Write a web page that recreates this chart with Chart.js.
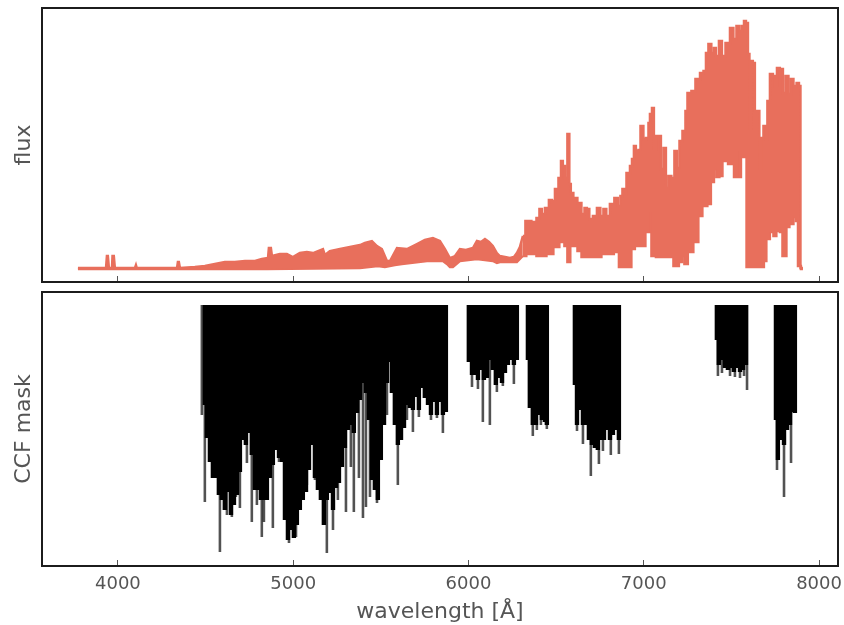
<!DOCTYPE html>
<html>
<head>
<meta charset="utf-8">
<title>flux and CCF mask</title>
<script src="https://cdn.jsdelivr.net/npm/chart.js@4"></script>
<style>
  body { margin: 0; background: #fff; }
  canvas { position: absolute; left: 0; }
  #fluxChart { top: 0; }
  #maskChart { top: 284px; }
</style>
</head>
<body>
<canvas id="fluxChart" width="844" height="290"></canvas>
<canvas id="maskChart" width="844" height="341"></canvas>
<script>
// Spectrum envelope (upper and lower edge of the dense line)
const fluxHighWave = [3772,3932,3937,3943,3949,3966,3969,3977,3983,4097,4103,4108,4337,4342,4348,4354,4439,4496,4553,4610,4667,4725,4782,4821,4856,4861,4873,4879,4924,4964,4998,5038,5078,5113,5170,5181,5209,5267,5324,5381,5409,5449,5478,5506,5535,5552,5592,5649,5706,5751,5797,5837,5866,5894,5923,5951,5985,6025,6048,6071,6094,6117,6139,6162,6179,6208,6236,6259,6276,6293,6310,6339,6379,6396,6413,6425,6447,6470,6482,6504,6522,6533,6544,6556,6561,6567,6573,6578,6590,6607,6636,6653,6670,6681,6698,6721,6744,6761,6778,6795,6818,6846,6858,6875,6881,6898,6904,6915,6927,6938,6949,6961,6978,6984,6995,7001,7024,7029,7041,7052,7064,7075,7092,7104,7121,7132,7149,7166,7183,7195,7212,7229,7246,7252,7263,7280,7309,7332,7349,7360,7377,7394,7406,7417,7440,7452,7480,7503,7520,7537,7554,7566,7577,7589,7600,7606,7617,7628,7640,7651,7668,7674,7691,7702,7708,7731,7743,7754,7765,7788,7800,7817,7834,7845,7863,7880,7891,7897,7908];
const fluxHigh = [14,14,26,26,14,14,26,26,14,14,17,14,14,20,20,14,15,16,18,20,20,21,21,23,24,34,34,26,28,28,25,29,30,29,33,27,31,33,35,37,39,41,36,33,21,21,34,33,38,42,44,41,33,24,26,33,32,34,41,40,43,40,36,29,26,25,24,25,29,35,46,61,60,64,73,68,74,82,81,93,104,121,116,104,104,148,148,98,89,84,79,68,74,73,63,66,74,66,73,66,78,84,76,86,93,88,109,109,116,123,136,131,132,156,156,143,144,159,168,174,133,146,146,113,134,94,106,104,131,114,141,151,171,189,189,191,203,209,211,229,238,229,234,226,241,226,239,254,243,256,251,256,261,259,228,154,221,219,171,171,114,144,156,143,181,208,206,196,214,213,189,206,188,203,196,199,196,14,14];
const fluxLowWave = [3772,4850,5381,5483,5523,5580,5620,5763,5854,5877,5894,5911,5951,6048,6139,6162,6179,6276,6310,6350,6425,6465,6504,6533,6561,6567,6578,6584,6607,6636,6653,6710,6807,6852,6864,6904,6921,6938,6961,6995,7024,7041,7046,7092,7149,7189,7212,7223,7240,7263,7303,7320,7349,7377,7389,7412,7417,7446,7452,7509,7520,7532,7537,7549,7560,7566,7583,7589,7680,7691,7708,7731,7748,7765,7788,7794,7811,7817,7845,7863,7874,7885,7908];
const fluxLow = [13,13,14,16,15,17,18,21,21,18,15,15,21,23,21,19,20,20,26,28,26,28,35,40,36,20,20,36,36,31,25,25,28,30,15,15,15,33,36,36,50,70,26,25,25,16,20,26,18,30,40,66,76,78,100,113,105,106,121,118,105,105,131,105,133,125,125,15,15,21,43,50,46,51,50,26,26,55,58,65,61,16,13];
// above this wavelength the teeth of the spectrum are tall and square
const fluxSplit = 6310;

// CCF mask: solid part of the comb and the single lines that stick out of it
const maskTop = 261;
const maskCoreWave = [4496,4508,4525,4542,4559,4576,4593,4610,4628,4645,4662,4679,4696,4713,4730,4747,4764,4782,4799,4816,4833,4850,4867,4884,4901,4919,4936,4953,4970,4987,5004,5021,5038,5055,5073,5090,5107,5124,5141,5158,5175,5192,5209,5227,5244,5261,5278,5295,5312,5329,5346,5364,5381,5398,5415,5432,5449,5466,5483,5500,5518,5535,5546,5563,5580,5597,5615,5632,5649,5666,5683,5700,5717,5734,5751,5769,5786,5803,5820,5837,5854,5871,
  6002,6020,6037,6054,6071,6088,6105,6122,6139,6156,6174,6191,6208,6225,6242,6259,6276,
  6339,6350,6367,6385,6402,6419,6436,6447,
  6607,6619,6636,6653,6670,6687,6704,6721,6738,6755,6773,6790,6807,6824,6841,6858,
  7417,7428,7446,7463,7480,7497,7514,7531,7549,7566,7583,
  7754,7765,7782,7800,7817,7834,7851,7862];
const maskCore = [161,128,104,88,88,71,66,56,74,51,61,71,94,126,121,133,111,76,76,66,66,66,88,101,116,108,104,46,26,36,28,41,56,66,74,96,121,88,76,66,41,66,73,56,78,83,99,118,136,141,133,153,166,183,173,146,86,76,66,106,141,183,204,173,141,121,126,138,161,158,156,169,156,178,168,161,151,164,151,164,151,154,
  204,191,191,186,196,186,188,206,196,181,188,183,193,201,206,201,206,
  206,158,141,141,151,146,144,141,
  181,141,156,141,141,126,121,118,116,126,126,136,126,131,136,126,
  226,201,206,198,196,198,194,198,194,196,201,
  146,106,126,121,136,141,154,153];
const maskLineWave = [4479,4496,4582,4622,4650,4673,4696,4736,4764,4793,4821,4833,4884,4919,4976,5016,5055,5078,5124,5192,5227,5255,5301,5329,5346,5375,5398,5415,5438,5478,5535,5597,5649,5683,5717,5786,5820,5854,
  6020,6054,6082,6122,6162,6196,6259,
  6367,6390,6413,6447,
  6619,6653,6698,6744,6767,6812,6858,
  7423,7446,7492,7520,7549,7572,7589,
  7760,7800,7840];
const maskLine = [151,64,14,51,49,69,58,103,44,61,29,44,38,104,23,29,71,81,86,13,36,66,54,99,54,88,48,59,69,63,151,81,146,134,149,146,148,133,
  179,177,144,141,174,180,182,
  130,136,141,137,
  135,122,90,102,115,111,112,
  190,193,190,189,188,190,176,
  96,69,103];

const xTicks = [4000, 5000, 6000, 7000, 8000];
const xMin = 3567;
const xMax = 8108;
const fluxColor = '#e86f5c';
const textColor = '#555555';

function zip(xs, ys) {
  return xs.map((x, i) => ({ x: x, y: ys[i] }));
}
function bars(xs, lows) {
  return xs.map((x, i) => ({ x: x, y: [lows[i], maskTop] }));
}

// matplotlib style closed box round the plot area
const frame = {
  id: 'frame',
  afterDraw(chart) {
    const a = chart.chartArea;
    const c = chart.ctx;
    c.save();
    c.strokeStyle = '#1c1c1c';
    c.lineWidth = 2;
    c.strokeRect(a.left, a.top, a.width, a.height);
    c.restore();
  }
};

function xAxis(showLabels, height) {
  return {
    type: 'linear',
    min: xMin,
    max: xMax,
    offset: false,
    afterBuildTicks: (s) => { s.ticks = xTicks.map((v) => ({ value: v })); },
    afterFit: (s) => {
      s.height = height;
      // the 8000 label may hang over the right edge of the box
      s.paddingLeft = 0;
      s.paddingRight = 0;
    },
    border: { display: false },
    grid: { drawOnChartArea: false, offset: false, tickLength: -6, tickColor: textColor, tickWidth: 1 },
    ticks: {
      display: showLabels,
      autoSkip: false,
      maxRotation: 0,
      padding: 14,
      color: textColor,
      font: { family: 'DejaVu Sans', size: 18 },
      callback: (v) => String(v)
    },
    title: {
      display: showLabels,
      text: 'wavelength [Å]',
      color: textColor,
      font: { family: 'DejaVu Sans', size: 22 },
      padding: { top: 0, bottom: 0 }
    }
  };
}

function yAxis(label) {
  return {
    min: 0,
    max: 274,
    afterFit: (s) => { s.width = 42; },
    border: { display: false },
    grid: { display: false },
    ticks: { display: false },
    title: {
      display: true,
      text: label,
      color: textColor,
      font: { family: 'DejaVu Sans', size: 22 },
      padding: { top: 11, bottom: 0 }
    }
  };
}

const fluxStyle = { borderColor: fluxColor, backgroundColor: fluxColor, borderWidth: 2.4, pointRadius: 0 };

new Chart(document.getElementById('fluxChart'), {
  type: 'line',
  data: {
    datasets: [
      { ...fluxStyle, data: zip(fluxHighWave, fluxHigh).filter((p) => p.x <= fluxSplit), fill: '+1' },
      { ...fluxStyle, data: zip(fluxLowWave, fluxLow).filter((p) => p.x <= fluxSplit), fill: false },
      { ...fluxStyle, data: zip(fluxHighWave, fluxHigh).filter((p) => p.x >= fluxSplit), fill: '+1', stepped: 'middle' },
      { ...fluxStyle, data: zip(fluxLowWave, fluxLow).filter((p) => p.x >= fluxSplit), fill: false, stepped: 'middle' }
    ]
  },
  options: {
    responsive: false,
    animation: false,
    layout: { padding: { top: 8, right: 6, left: 0, bottom: 0 } },
    plugins: { legend: { display: false }, tooltip: { enabled: false } },
    scales: { x: xAxis(false, 8), y: yAxis('flux') }
  },
  plugins: [frame]
});

new Chart(document.getElementById('maskChart'), {
  type: 'bar',
  data: {
    datasets: [
      { data: bars(maskCoreWave, maskCore), backgroundColor: '#000000', barThickness: 4.4, inflateAmount: 0, grouped: false },
      { data: bars(maskLineWave, maskLine), backgroundColor: 'rgba(0,0,0,0.68)', barThickness: 2.6, inflateAmount: 0, grouped: false }
    ]
  },
  options: {
    responsive: false,
    animation: false,
    layout: { padding: { top: 8, right: 6, left: 0, bottom: 0 } },
    plugins: { legend: { display: false }, tooltip: { enabled: false } },
    scales: { x: xAxis(true, 59), y: yAxis('CCF mask') }
  },
  plugins: [frame]
});
</script>
</body>
</html>
